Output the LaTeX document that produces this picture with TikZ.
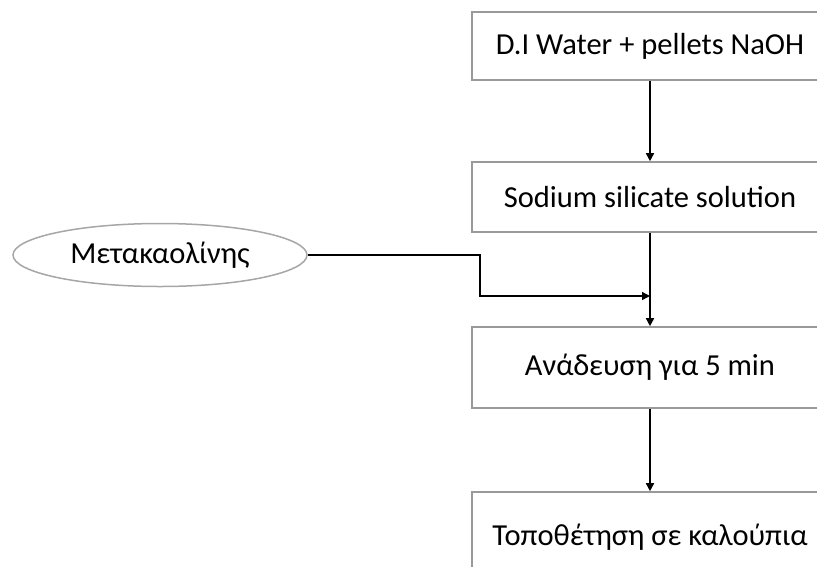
\documentclass[tikz,border=0pt]{standalone}
\usepackage{fontspec}
\setmainfont{Carlito}
\usetikzlibrary{arrows.meta,shapes.geometric}
\begin{document}
\begin{tikzpicture}[x=1pt,y=-1pt,
  stepbox/.style={draw=black!40,line width=1.6pt,fill=white,rectangle,
    minimum width=356pt,inner sep=0pt,font=\fontsize{30.5}{36}\selectfont},
  oval/.style={draw=black!35,line width=1.5pt,ellipse,inner sep=0pt,
    minimum width=294pt,minimum height=63pt,font=\fontsize{30.5}{36}\selectfont},
  flow/.style={line width=1.5pt,-{Triangle[length=8pt,width=8pt]}}]
\useasboundingbox (0,0) rectangle (817,566);
\clip (0,0) rectangle (817,566);
\node[stepbox,minimum height=68pt] (water) at (650,46) {D.I Water + pellets NaOH};
\node[stepbox,minimum height=70pt] (silicate) at (650,197) {Sodium silicate solution};
\node[stepbox,minimum height=81pt] (mix) at (650,367.5) {Ανάδευση για 5 min};
\node[stepbox,minimum height=90pt] (mould) at (650,537) {Τοποθέτηση σε καλούπια};
\node[oval] (meta) at (160,255) {Μετακαολίνης};
\coordinate (join) at (650,296);
\draw[flow] (water) -- (silicate);
\draw[flow] (silicate) -- (mix);
\draw[flow] (mix) -- (mould);
\draw[flow] (meta.east) -- (480,255) |- (join);
\end{tikzpicture}
\end{document}
